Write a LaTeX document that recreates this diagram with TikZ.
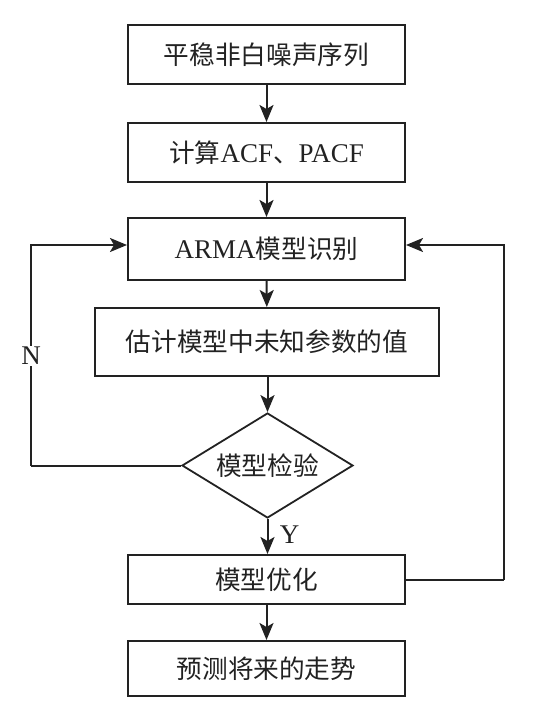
\documentclass[tikz,border=0pt]{standalone}
\usepackage{fontspec}
\setmainfont{Liberation Serif}
\newfontfamily\cjk{Noto Sans CJK SC}[Scale=0.95]
\usetikzlibrary{shapes.geometric,arrows.meta}
\definecolor{ink}{HTML}{222222}
\begin{document}
\begin{tikzpicture}[x=1pt,y=-1pt,
  every node/.style={font=\fontsize{27}{32}\selectfont, text=ink},
  box/.style={draw=ink, line width=2pt, rectangle, inner sep=0pt},
  dia/.style={draw=ink, line width=1.8pt, diamond, aspect=1.63, inner sep=0pt, minimum width=171pt, minimum height=105pt},
  arr/.style={draw=ink, line width=2pt, -{Stealth[length=17pt,width=14pt,inset=4pt]}},
  ln/.style={draw=ink, line width=2pt}]
\useasboundingbox (0,0) rectangle (537,706);
\node[box, minimum width=277pt, minimum height=59pt] (b1) at (266.5,54.5) {\cjk 平稳非白噪声序列};
\node[box, minimum width=277pt, minimum height=59pt] (b2) at (266.5,152.5) {{\cjk 计算}ACF{\cjk 、}PACF};
\node[box, minimum width=277pt, minimum height=62pt] (b3) at (266.5,249) {ARMA{\cjk 模型识别}};
\node[box, minimum width=344pt, minimum height=68pt] (b4) at (267,342) {\cjk 估计模型中未知参数的值};
\node[dia] (d) at (267.5,465.5) {\cjk 模型检验};
\node[box, minimum width=277pt, minimum height=49pt] (b5) at (266.5,579.5) {\cjk 模型优化};
\node[box, minimum width=277pt, minimum height=55pt] (b6) at (266.5,668.5) {\cjk 预测将来的走势};
\coordinate (lb) at (31,465.5);
\coordinate (lt) at (31,245);
\coordinate (rb) at (504,580);
\coordinate (rt) at (504,245);
\draw[arr] (b1) -- (b2);
\draw[arr] (b2) -- (b3);
\draw[arr] (b3) -- (b4);
\draw[arr] (b4.south -| d.north) -- (d.north);
\draw[arr] (d.south) -- (b5.north -| d.south) node[pos=0.45, right=8pt] (y) {Y};
\draw[arr] (b5) -- (b6);
\draw[ln] (d.west) -- (lb);
\draw[arr] (lb) -- (lt) -- (lt -| b3.west);
\node[fill=white, inner sep=1pt] (n) at (31,356) {N};
\draw[ln] (b5.east |- rb) -- (rb);
\draw[arr] (rb) -- (rt) -- (rt -| b3.east);
\end{tikzpicture}
\end{document}
